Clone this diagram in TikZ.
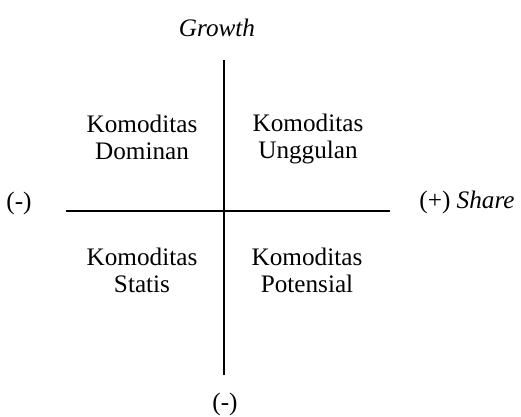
\documentclass[tikz,border=0pt]{standalone}
\usepackage{fontspec}
\setmainfont{Liberation Serif}
\begin{document}
\begin{tikzpicture}[x=0.5pt,y=-0.5pt,
  lbl/.style={font=\fontsize{12.6}{13.4}\selectfont,inner sep=0pt,align=center},
  axis/.style={line width=0.8pt,black}]
\useasboundingbox[fill=white] (0,0) rectangle (521,417);
\coordinate (vt) at (224,60);
\coordinate (vb) at (224,375);
\coordinate (hl) at (66,211);
\coordinate (hr) at (390,211);
\draw[axis] (vt) -- (vb);
\draw[axis] (hl) -- (hr);
\node[lbl] (growth) at (217,28) {\itshape Growth};
\node[lbl] (dom) at (142,137) {Komoditas\\Dominan};
\node[lbl] (ung) at (308,139) {Komoditas\\Unggulan};
\node[lbl] (sta) at (142,270) {Komoditas\\Statis};
\node[lbl] (pot) at (307,270) {Komoditas\\Potensial};
\node[lbl] (minl) at (19,203) {(-)};
\node[lbl] (share) at (467,202) {(+) \itshape Share};
\node[lbl] (minb) at (225,404) {(-)};
\end{tikzpicture}
\end{document}
